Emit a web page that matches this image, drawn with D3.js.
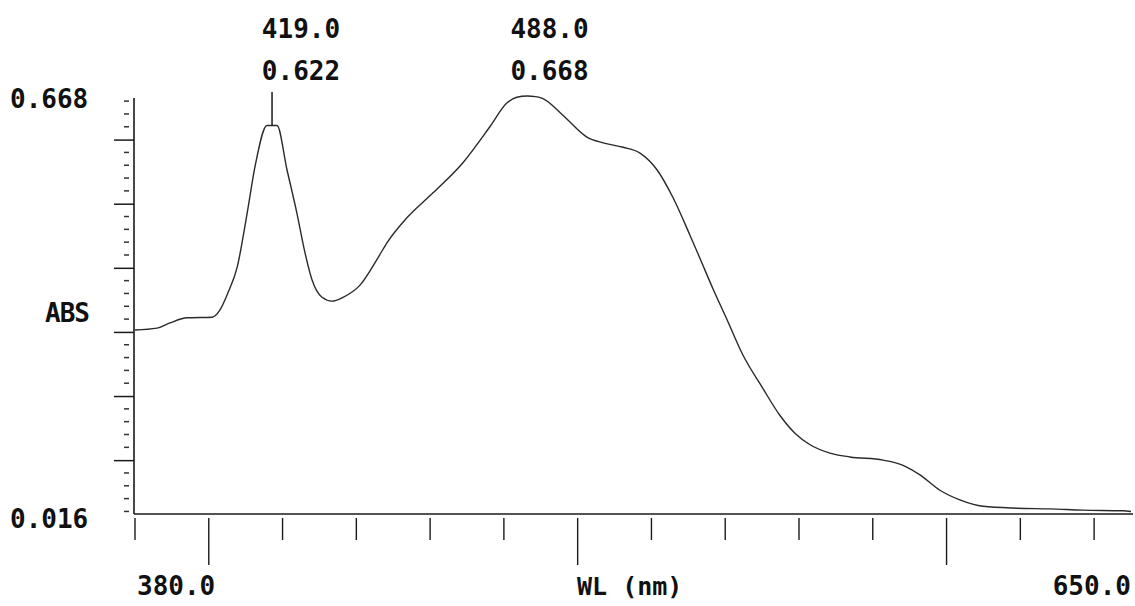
<!DOCTYPE html>
<html>
<head>
<meta charset="utf-8">
<script src="https://cdn.jsdelivr.net/npm/d3@7"></script>
<style>
  html, body { margin: 0; padding: 0; background: #fff; }
  svg { display: block; }
  text { font-family: "DejaVu Sans Mono", "Liberation Mono", monospace; font-weight: bold; fill: #111; }
</style>
</head>
<body>
<svg id="chart" width="1135" height="606"></svg>
<script>
// ---- data ----
const wavelengths = [380.0, 386.0, 389.5, 394.1, 400.9, 403.0, 405.2, 407.7, 410.4, 412.5,
  415.8, 418.5, 421.2, 423.9, 426.1, 428.0, 430.7, 433.4, 436.4, 441.0,
  445.9, 448.3, 453.7, 460.8, 468.9, 476.2, 480.8, 483.5, 486.3, 488.6, 490.6, 496.0,
  502.5, 506.9, 512.3, 516.9, 521.5, 525.8, 530.5, 533.2, 536.7, 540.5,
  544.8, 550.2, 554.8, 558.9, 563.0, 568.4, 573.8, 582.8, 588.2, 592.8, 598.2,
  603.6, 609.9, 619.1, 628.0, 637.0, 647.8, 650.0];
const absorbance = [0.303, 0.306, 0.314, 0.322, 0.323, 0.334, 0.361, 0.401, 0.485, 0.557,
  0.622, 0.622, 0.553, 0.485, 0.423, 0.381, 0.354, 0.348, 0.354, 0.373,
  0.416, 0.439, 0.478, 0.517, 0.564, 0.620, 0.657, 0.666, 0.668, 0.667, 0.664, 0.638,
  0.604, 0.595, 0.588, 0.579, 0.553, 0.510, 0.450, 0.414, 0.367, 0.319,
  0.264, 0.212, 0.170, 0.142, 0.124, 0.111, 0.105, 0.100, 0.092, 0.077, 0.053,
  0.038, 0.028, 0.025, 0.024, 0.022, 0.021, 0.020];

const peakWL = [419.0, 488.0];
const peakAbs = [0.622, 0.668];
const peakWLLabels = ["419.0", "488.0"];
const peakAbsLabels = ["0.622", "0.668"];

const xTickValues = [380, 400, 420, 440, 460, 480, 500, 520, 540, 560, 580, 600, 620, 640];
const xMajorTicks = [400, 500, 600];
const yMajorTicks = [0.1, 0.2, 0.3, 0.4, 0.5, 0.6];
const yMinorTicks = [0.02, 0.04, 0.06, 0.08, 0.12, 0.14, 0.16, 0.18, 0.22, 0.24, 0.26, 0.28,
  0.32, 0.34, 0.36, 0.38, 0.42, 0.44, 0.46, 0.48, 0.52, 0.54, 0.56, 0.58, 0.62, 0.64, 0.66];

const xDomain = [380.0, 650.0];
const yDomain = [0.016, 0.668];
const xEndLabels = ["380.0", "650.0"];
const yEndLabels = ["0.016", "0.668"];
const xTitle = "WL (nm)";
const yTitle = "ABS";

// ---- drawing ----
const svg = d3.select("#chart");
const x = d3.scaleLinear().domain(xDomain).range([135, 1131]);
const y = d3.scaleLinear().domain(yDomain).range([514, 96]);
const axisColor = "#1a1a1a";

// baseline (x axis line)
svg.append("line")
  .attr("x1", x(xDomain[0]) - 1).attr("x2", x(xDomain[1]) + 2)
  .attr("y1", y(yDomain[0])).attr("y2", y(yDomain[0]))
  .attr("stroke", axisColor).attr("stroke-width", 1.6);

// y axis line
svg.append("line")
  .attr("x1", 134).attr("x2", 134)
  .attr("y1", y(yDomain[1]) + 2).attr("y2", y(yDomain[0]))
  .attr("stroke", axisColor).attr("stroke-width", 1.6);

// y major ticks via d3 axis
const yAxis = d3.axisLeft(y).tickValues(yMajorTicks).tickSize(20).tickFormat("");
const gy = svg.append("g").attr("transform", "translate(134,0)").call(yAxis);
gy.select(".domain").remove();
gy.selectAll(".tick line").attr("stroke", axisColor).attr("stroke-width", 1.5);

// y minor ticks (short detached dashes)
svg.append("g").selectAll("line").data(yMinorTicks).join("line")
  .attr("x1", 124).attr("x2", 129)
  .attr("y1", d => y(d)).attr("y2", d => y(d))
  .attr("stroke", "#333").attr("stroke-width", 1.5);

// x ticks
svg.append("g").selectAll("line").data(xTickValues).join("line")
  .attr("x1", d => x(d)).attr("x2", d => x(d))
  .attr("y1", y(yDomain[0]) + 4)
  .attr("y2", d => xMajorTicks.includes(d) ? y(yDomain[0]) + 51 : y(yDomain[0]) + 26)
  .attr("stroke", axisColor).attr("stroke-width", 1.4);

// spectrum curve
const pts = wavelengths.map((w, i) => [w, absorbance[i]]);
const line = d3.line().x(d => x(d[0])).y(d => y(d[1])).curve(d3.curveMonotoneX);
svg.append("path").datum(pts)
  .attr("d", line)
  .attr("fill", "none")
  .attr("stroke", "#2a2a2a")
  .attr("stroke-width", 1.4);

// peak annotations
const fs = 26;
peakWL.forEach((wl, i) => {
  // locate the drawn peak position from the data near the labelled wavelength
  const near = pts.filter(p => Math.abs(p[0] - wl) <= 6);
  const mx = d3.max(near, p => p[1]);
  const top = near.filter(p => p[1] === mx);
  const px = x(d3.mean(top, p => p[0]));
  if (i === 0) {
    svg.append("line")
      .attr("x1", px).attr("x2", px)
      .attr("y1", 92).attr("y2", y(peakAbs[i]))
      .attr("stroke", axisColor).attr("stroke-width", 1.5);
  }
  const lx = x(wl) - (i === 0 ? 17 : 23);
  svg.append("text").attr("x", lx).attr("y", 38).attr("font-size", fs).text(peakWLLabels[i]);
  svg.append("text").attr("x", lx).attr("y", 80).attr("font-size", fs).text(peakAbsLabels[i]);
});

// axis end labels
svg.append("text").attr("x", 10).attr("y", 108).attr("font-size", fs).text(yEndLabels[1]);
svg.append("text").attr("x", 10).attr("y", 528).attr("font-size", fs).text(yEndLabels[0]);
svg.append("text").attr("x", 45).attr("y", 322).attr("font-size", fs).attr("letter-spacing", -1).text(yTitle);
svg.append("text").attr("x", 137).attr("y", 595).attr("font-size", fs).text(xEndLabels[0]);
svg.append("text").attr("x", 1131).attr("y", 595).attr("font-size", fs).attr("text-anchor", "end").text(xEndLabels[1]);
svg.append("text").attr("x", 577).attr("y", 595).attr("font-size", fs - 1).text(xTitle);
</script>
</body>
</html>
